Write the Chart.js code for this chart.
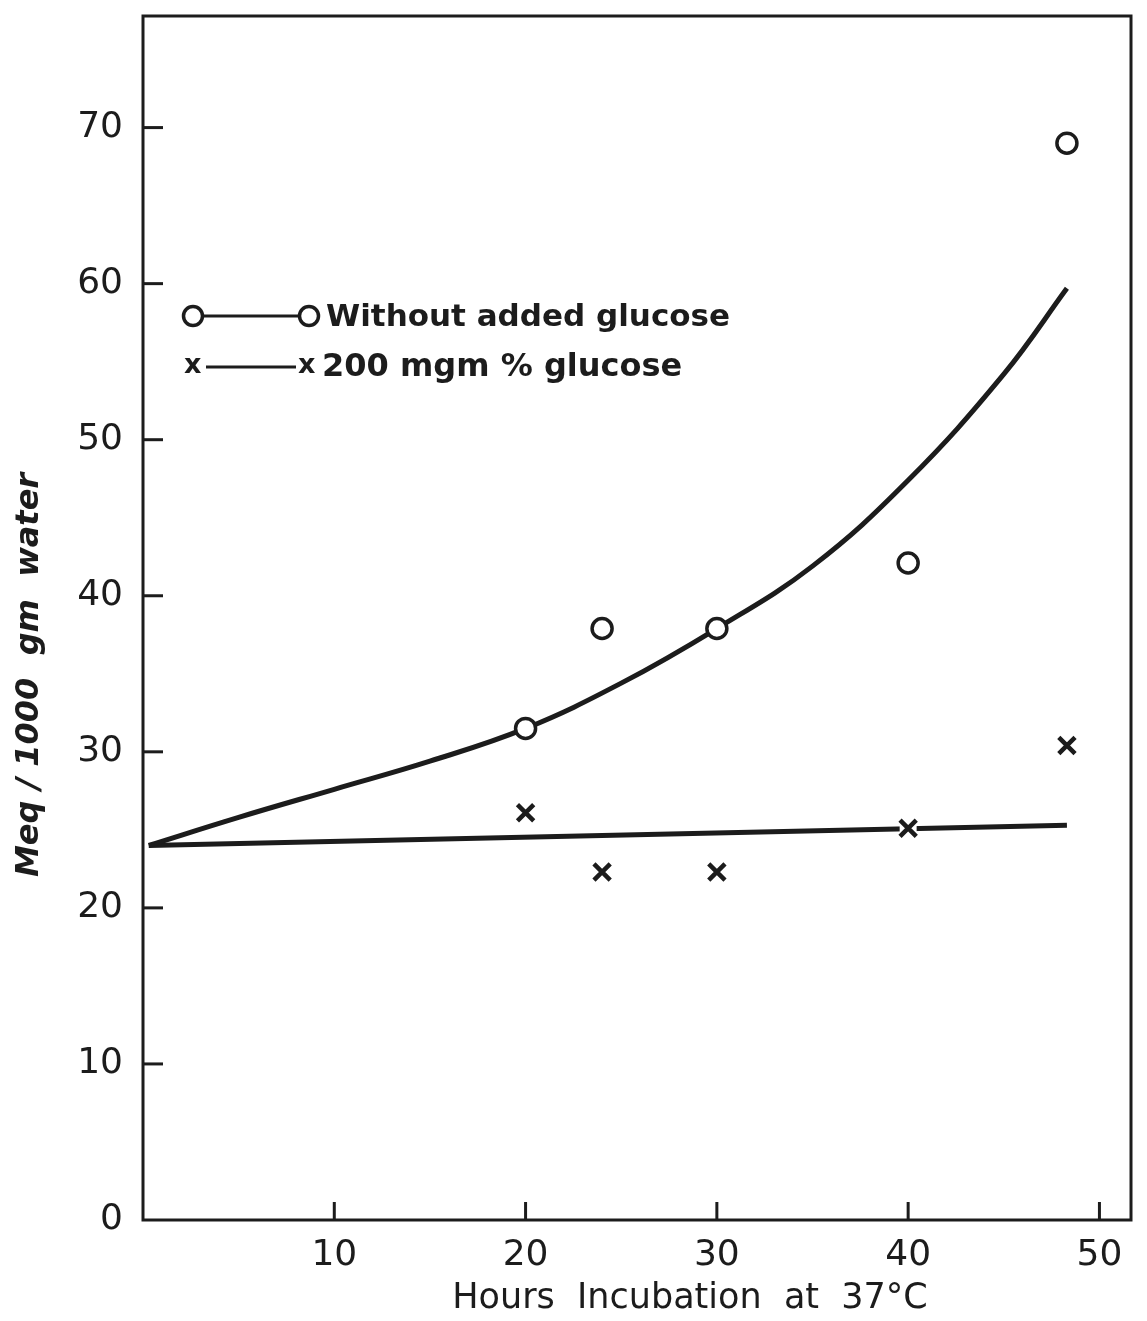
<!DOCTYPE html>
<html>
<head>
<meta charset="utf-8">
<script src="https://cdn.jsdelivr.net/npm/chart.js@4.4.1/dist/chart.umd.min.js"></script>
<style>
  html, body { margin: 0; padding: 0; background: #fff; }
  #wrap { width: 1147px; height: 1321px; }
</style>
</head>
<body>
<div id="wrap"><canvas id="myChart" width="1147" height="1321"></canvas></div>
<script>
// hours of incubation and measured values
const hours = [20, 24, 30, 40, 48.3];
const withoutGlucose = [31.5, 37.9, 37.9, 42.1, 69.0];
const withGlucose = [26.1, 22.3, 22.3, 25.1, 30.4];

// smooth curve drawn through the no-glucose points
const curveHours = [0.3, 5, 10, 15, 20, 25, 30, 35, 40, 45, 48.3];
const curveValues = [24.0, 25.8, 27.6, 29.4, 31.5, 34.4, 37.9, 41.9, 47.4, 54.2, 59.7];

// straight line for the glucose series
const lineHours = [0.3, 48.3];
const lineValues = [24.0, 25.3];

const xTicks = [10, 20, 30, 40, 50];
const yTicks = [0, 10, 20, 30, 40, 50, 60, 70];

const xTitle = 'Hours  Incubation  at  37°C';
const yTitle = 'Meq / 1000  gm  water';

const ink = '#1c1c1c';
const fontFamily = '"DejaVu Sans", sans-serif';

const pts = (xs, ys) => xs.map((x, i) => ({ x: x, y: ys[i] }));

// frame, inner tick marks, axis titles and the legend written inside the plot
const decorations = {
  id: 'decorations',
  afterDraw(chart) {
    const ctx = chart.ctx;
    const a = chart.chartArea;
    const xs = chart.scales.x;
    const ys = chart.scales.y;
    ctx.save();
    ctx.strokeStyle = ink;
    ctx.lineWidth = 3;
    ctx.strokeRect(a.left, a.top, a.right - a.left, a.bottom - a.top);

    xTicks.forEach(v => {
      const px = xs.getPixelForValue(v);
      ctx.beginPath();
      ctx.moveTo(px, a.bottom);
      ctx.lineTo(px, a.bottom - 18);
      ctx.stroke();
    });
    yTicks.forEach(v => {
      if (v === 0) return;
      const py = ys.getPixelForValue(v);
      ctx.beginPath();
      ctx.moveTo(a.left, py);
      ctx.lineTo(a.left + 20, py);
      ctx.stroke();
    });

    // axis titles
    ctx.fillStyle = ink;
    ctx.textAlign = 'center';
    ctx.textBaseline = 'middle';
    ctx.font = '35px ' + fontFamily;
    ctx.fillText(xTitle, 690, 1299);
    ctx.save();
    ctx.translate(30, 675);
    ctx.rotate(-Math.PI / 2);
    ctx.font = 'italic bold 32px ' + fontFamily;
    ctx.fillText(yTitle, 0, 0);
    ctx.restore();

    // legend rows
    ctx.lineWidth = 3;
    ctx.beginPath();
    ctx.moveTo(203, 316);
    ctx.lineTo(299, 316);
    ctx.moveTo(206, 367);
    ctx.lineTo(296, 367);
    ctx.stroke();

    ctx.lineWidth = 3.5;
    ctx.fillStyle = '#fff';
    [193, 309].forEach(cx => {
      ctx.beginPath();
      ctx.arc(cx, 316, 9.5, 0, Math.PI * 2);
      ctx.fill();
      ctx.stroke();
    });

    ctx.fillStyle = ink;
    ctx.textAlign = 'left';
    ctx.font = 'bold 31px ' + fontFamily;
    ctx.fillText('Without added glucose', 326, 318);
    ctx.font = 'bold 27px ' + fontFamily;
    ctx.fillText('x', 184, 366);
    ctx.fillText('x', 298, 366);
    ctx.font = 'bold 32px ' + fontFamily;
    ctx.fillText('200 mgm % glucose', 322, 368);
    ctx.restore();
  }
};

const data = {
  datasets: [
    {
      label: 'Without added glucose',
      data: pts(hours, withoutGlucose),
      showLine: false,
      pointStyle: 'circle',
      pointRadius: 10,
      pointBorderWidth: 3.5,
      pointBorderColor: ink,
      pointBackgroundColor: '#fff',
      order: 0
    },
    {
      label: '200 mgm % glucose',
      data: pts(hours, withGlucose),
      showLine: false,
      pointStyle: 'crossRot',
      pointRadius: 11.5,
      pointBorderWidth: 4.5,
      pointBorderColor: ink,
      order: 1
    },
    {
      // white gap where the cross sits on the line
      label: 'gap',
      data: [{ x: hours[3], y: withGlucose[3] }],
      showLine: false,
      pointStyle: 'rect',
      pointRadius: 12,
      pointBorderWidth: 0,
      pointBackgroundColor: '#fff',
      order: 2
    },
    {
      label: 'curve',
      data: pts(curveHours, curveValues),
      showLine: true,
      borderColor: ink,
      borderWidth: 5,
      tension: 0.4,
      pointRadius: 0,
      order: 3
    },
    {
      label: 'line',
      data: pts(lineHours, lineValues),
      showLine: true,
      borderColor: ink,
      borderWidth: 5,
      pointRadius: 0,
      order: 4
    }
  ]
};

const config = {
  type: 'scatter',
  data: data,
  plugins: [decorations],
  options: {
    responsive: false,
    animation: false,
    layout: { padding: { top: 5, right: 3, left: 0, bottom: 0 } },
    plugins: {
      legend: { display: false },
      tooltip: { enabled: false }
    },
    scales: {
      x: {
        type: 'linear',
        min: 0,
        max: 51.65,
        afterBuildTicks: s => { s.ticks = xTicks.map(v => ({ value: v })); },
        afterFit: s => { s.height = 101; s.paddingLeft = 0; s.paddingRight = 0; },
        grid: { display: false, drawTicks: false },
        border: { display: false },
        ticks: {
          padding: 14,
          color: ink,
          font: { family: fontFamily, size: 36 }
        }
      },
      y: {
        type: 'linear',
        min: 0,
        max: 77.15,
        afterBuildTicks: s => { s.ticks = yTicks.map(v => ({ value: v })); },
        afterFit: s => { s.width = 143; s.paddingTop = 0; s.paddingBottom = 0; },
        grid: { display: false, drawTicks: false },
        border: { display: false },
        ticks: {
          padding: 20,
          color: ink,
          font: { family: fontFamily, size: 36 }
        }
      }
    }
  }
};

const myChart = new Chart(document.getElementById('myChart'), config);
</script>
</body>
</html>
